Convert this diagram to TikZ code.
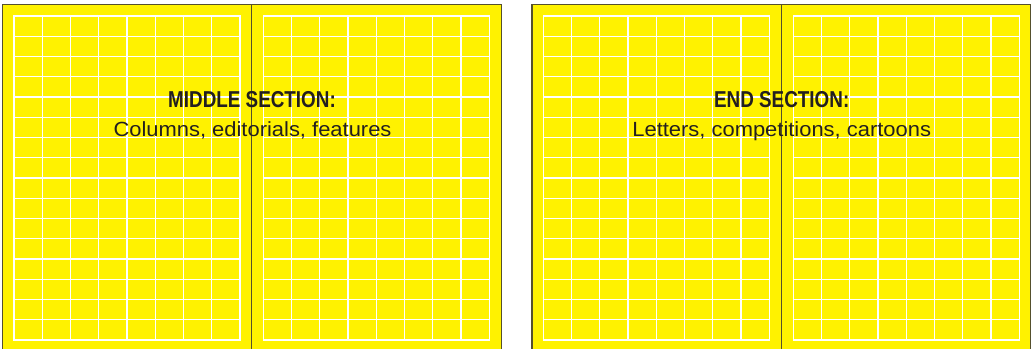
\documentclass[tikz,border=0pt]{standalone}
\usepackage{fontspec}
\setmainfont{Liberation Sans}
\newfontfamily\headfont[FakeStretch=0.82]{Liberation Sans}
\newfontfamily\subfont[FakeStretch=1.07]{Liberation Sans}
\definecolor{pageyellow}{RGB}{255,242,0}
\definecolor{edge}{RGB}{85,80,45}
\definecolor{ink}{RGB}{35,31,32}
\tikzset{
  spread/.style={fill=pageyellow, draw=edge, line width=1.3pt},
  spine/.style={draw=edge, line width=1pt},
  gridline/.style={draw=white, line width=1.2pt},
  gridframe/.style={draw=white, line width=1.4pt},
  headtext/.style={font=\headfont\bfseries\fontsize{23}{26}\selectfont, text=ink, inner sep=0pt, anchor=base},
  subtext/.style={font=\subfont\fontsize{20.5}{24}\selectfont, text=ink, inner sep=0pt, anchor=base}
}
\newcommand{\pagegrid}[1]{%
  \foreach \i in {0,...,8} {\draw[gridline] ({#1+\i*28.25},16) -- ({#1+\i*28.25},340);}
  \foreach \j in {0,...,16} {\draw[gridline] (#1,{16+\j*20.25}) -- ({#1+226},{16+\j*20.25});}
  \draw[gridframe] (#1,16) rectangle ({#1+226},340);
}
\begin{document}
\begin{tikzpicture}[x=1pt,y=-1pt]
\useasboundingbox (0,0) rectangle (1032,348);
\clip (0,0) rectangle (1032,348);
% left spread
\path[spread] (2.7,360) -- (2.7,4.7) -- (501.5,4.7) -- (501.5,360);
\pagegrid{14}
\pagegrid{263.3}
\coordinate (ls1) at (251.7,4.7);
\coordinate (ls2) at (251.7,360);
\draw[spine] (ls1) -- (ls2);
% right spread
\path[spread] (532,360) -- (532,4.7) -- (1030.8,4.7) -- (1030.8,360);
\pagegrid{543.3}
\pagegrid{793.3}
\coordinate (rs1) at (781.7,4.7);
\coordinate (rs2) at (781.7,360);
\draw[spine] (rs1) -- (rs2);
% texts
\node[headtext] (mh) at (252,107.3) {MIDDLE SECTION:};
\node[subtext] (ms) at (252.5,136.7) {Columns, editorials, features};
\node[headtext] (eh) at (781.7,107.3) {END SECTION:};
\node[subtext] (es) at (781.7,136.7) {Letters, competitions, cartoons};
\end{tikzpicture}
\end{document}
